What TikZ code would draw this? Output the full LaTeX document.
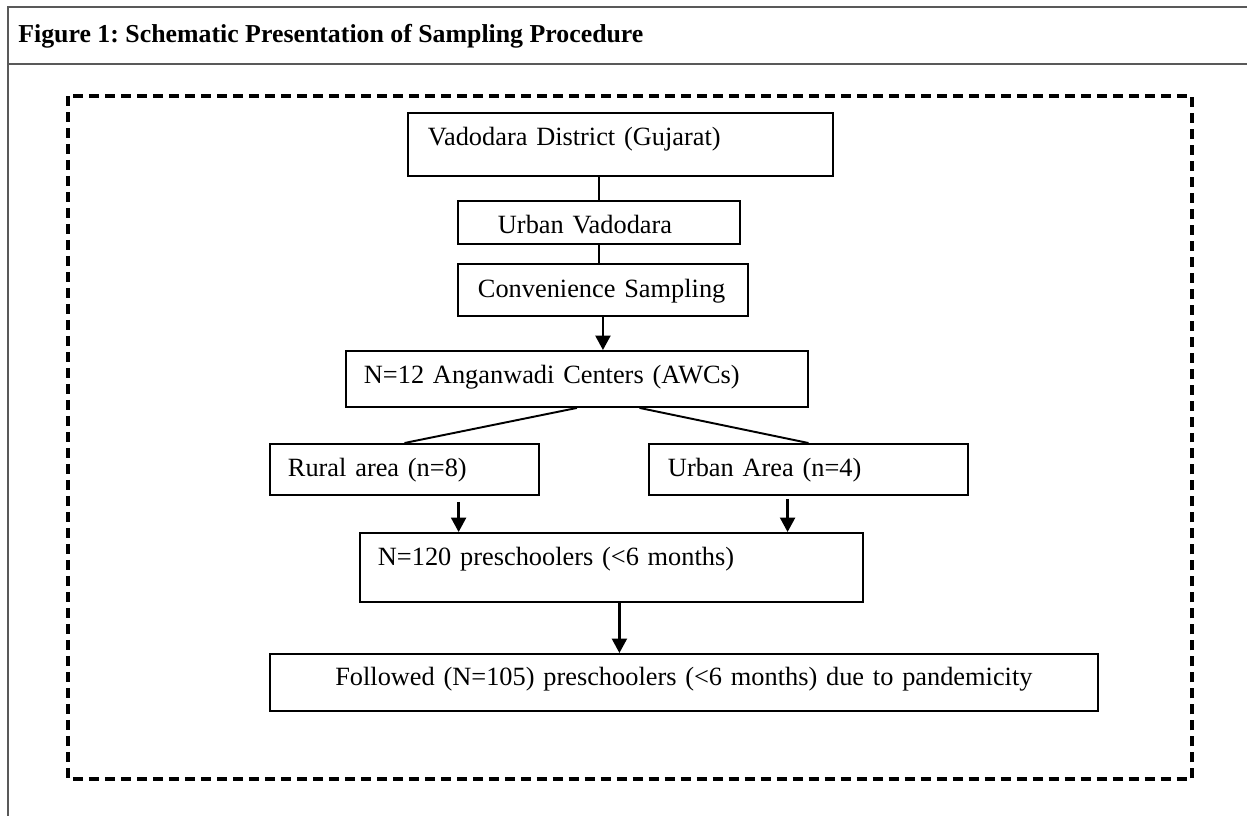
\documentclass[tikz,border=0pt]{standalone}
\usepackage{fontspec}
\setmainfont{Liberation Serif}
\usetikzlibrary{arrows.meta,calc}
\frenchspacing

\begin{document}
\begin{tikzpicture}[x=0.02cm, y=-0.02cm,
  box/.style={draw, line width=1.1pt, anchor=north west, inner ysep=0pt, align=left, font=\fontsize{15}{18}\selectfont},
  line/.style={line width=1.1pt},
  arrow/.style={line width=1.4pt, -{Triangle[length=0.29cm,width=0.3cm]}},
  frame/.style={line width=1.1pt, black!65}]
\useasboundingbox (0,0) rectangle (1247,816);
% page frame and heading
\draw[frame] (1247,7) -- (8,7) -- (8,816);
\draw[frame] (8,64) -- (1247,64);
\node[anchor=west, inner sep=0pt, font=\fontsize{14.7}{17}\selectfont\bfseries] (title) at (18,36) {Figure 1: Schematic Presentation of Sampling Procedure};
\draw[line width=2.2pt, dash pattern=on 0.2cm off 0.12cm] (68,96) rectangle (1192,779);
% boxes
\node[box, inner xsep=0.4cm, text width=7.7cm, text height=0.66cm, text depth=0.6cm] (dist) at (407,112) {Vadodara District (Gujarat)};
\node[box, inner xsep=0.8cm, text width=4.04cm, text height=0.66cm, text depth=0.2cm] (urb) at (457,200) {Urban Vadodara};
\node[box, inner xsep=0.4cm, text width=5cm, text height=0.68cm, text depth=0.36cm] (conv) at (457,263) {Convenience Sampling};
\node[box, inner xsep=0.36cm, text width=8.52cm, text height=0.66cm, text depth=0.46cm] (awc) at (345,350) {N=12 Anganwadi Centers (AWCs)};
\node[box, inner xsep=0.36cm, text width=4.66cm, text height=0.66cm, text depth=0.36cm] (rural) at (269,443) {Rural area (n=8)};
\node[box, inner xsep=0.38cm, text width=5.62cm, text height=0.66cm, text depth=0.36cm] (urbarea) at (648,443) {Urban Area (n=4)};
\node[box, inner xsep=0.36cm, text width=9.34cm, text height=0.66cm, text depth=0.72cm] (pre) at (359,532) {N=120 preschoolers (<6 months)};
\node[box, align=center, inner xsep=0pt, text width=16.56cm, text height=0.64cm, text depth=0.5cm] (fol) at (269,653) {Followed (N=105) preschoolers (<6 months) due to pandemicity};
% connectors
\coordinate (ruralOut) at ($(rural.south west)!0.7!(rural.south east)+(0,6)$);
\coordinate (urbOut) at ($(urbarea.south west)!0.435!(urbarea.south east)+(0,3)$);
\coordinate (preOut) at ($(pre.south)+(8,0)$);
\path[line] (dist.south -| urb.north) edge (urb.north);
\path[line] (urb.south) edge (urb.south |- conv.north);
\path[arrow] (conv.south) edge (conv.south |- awc.north);
\path[line] (awc.south) edge (rural.north);
\path[line] ($(awc.south)!0.27!(awc.south east)$) edge (urbarea.north);
\path[arrow] (ruralOut) edge (ruralOut |- pre.north);
\path[arrow] (urbOut) edge (urbOut |- pre.north);
\path[arrow] (preOut) edge (preOut |- fol.north);
\end{tikzpicture}
\end{document}
